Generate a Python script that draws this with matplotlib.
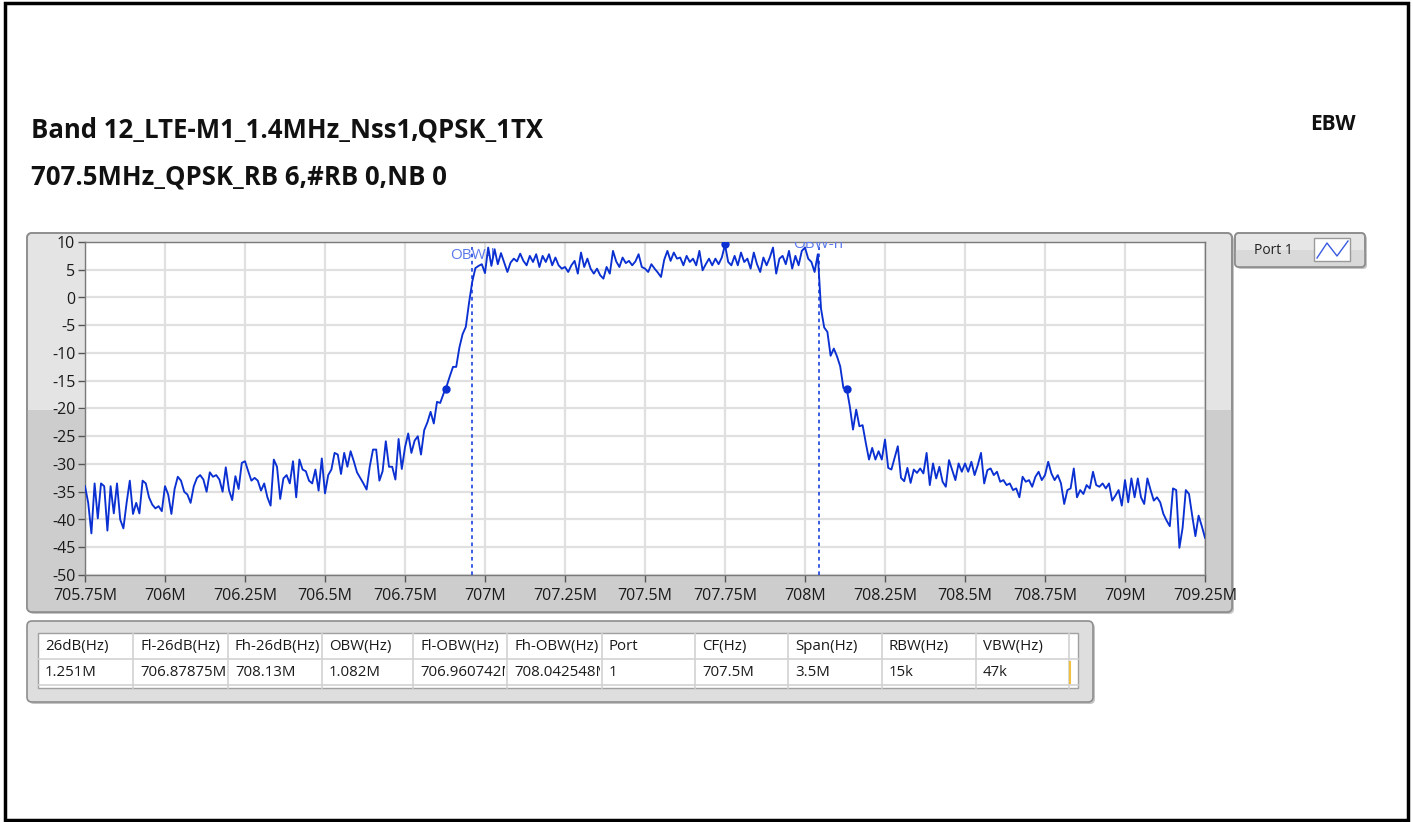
import numpy as np
import matplotlib.pyplot as plt
from matplotlib.patches import FancyBboxPatch, Rectangle
from matplotlib.ticker import MultipleLocator, FuncFormatter

plt.rcParams['font.family'] = ['Open Sans', 'DejaVu Sans']

title_1 = "Band 12_LTE-M1_1.4MHz_Nss1,QPSK_1TX"
title_2 = "707.5MHz_QPSK_RB 6,#RB 0,NB 0"
panel_name = "EBW"
legend_name = "Port 1"

# sweep 705.75 - 709.25 MHz, level in dBm
f_start, f_stop = 705.75, 709.25
level_db = [
    -34, -37, -42.5, -33.5, -39.8, -33.5, -34, -42, -34, -38.9,
    -33.5, -40, -41.6, -37, -33, -39, -37, -38.9, -33, -33.5,
    -36, -37.3, -38, -37.6, -38.5, -34, -35.5, -39, -34.5, -32.3,
    -33, -35, -35.5, -37, -34, -32.5, -32, -32.8, -35, -31.5,
    -32.3, -32, -32.8, -35, -30.6, -34.7, -36.5, -32.2, -34.5, -29.8,
    -29.5, -31.3, -33, -32.5, -33, -34.8, -33.5, -36, -37.5, -29.2,
    -30.5, -36.3, -32.6, -32, -33.5, -29.5, -36, -29.2, -31, -31.3,
    -33, -33.5, -31, -34.8, -29, -35.3, -32, -31, -28, -28.3,
    -31.8, -28, -30.5, -27.7, -29.5, -31.5, -32.5, -33.5, -34.6, -30.4,
    -27.4, -27.4, -33, -31.3, -25.9, -30.5, -30.5, -32.8, -25.5, -30.9,
    -27, -24.5, -28, -25.8, -25, -28.3, -23.9, -22.5, -20.6, -22.7,
    -18.8, -19, -17.4, -16, -14.2, -12.5, -12.5, -9, -6.6, -5.3,
    -1, 2.8, 5.3, 5.7, 6, 4.4, 9, 5.7, 8.7, 6,
    8, 6.3, 4.6, 6.3, 7, 6.5, 7.9, 6.6, 5.8, 7.5,
    6.4, 7.8, 5.5, 7.5, 6.4, 7.8, 5.8, 7.2, 5.8, 5.2,
    5.5, 4.6, 5.8, 6.6, 4.3, 8.1, 5.5, 7, 5.2, 4.3,
    5.2, 4, 3.4, 5.5, 4.3, 8.4, 6.5, 5.5, 7.2, 6.2,
    6.6, 5.8, 6.5, 7.8, 5.5, 5.2, 4.6, 6, 5.2, 4.5,
    3.7, 6.8, 8.4, 6.6, 8.1, 7, 7.2, 5.8, 7.5, 6.4,
    7, 5.8, 8.4, 4.9, 6, 7, 5.8, 7, 6, 7.2,
    9.5, 6.4, 5.8, 7.5, 5.8, 8.1, 6.4, 7, 5.2, 8.1,
    6, 4.6, 7.2, 5.8, 7.2, 9, 4.3, 7, 7.5, 6,
    8.4, 5.2, 7.5, 5.8, 8.4, 9, 7, 6.4, 4.6, 7.8,
    -2, -5.4, -6.2, -10.5, -9.2, -10.6, -12.4, -16.3, -16.3, -19.6,
    -23.8, -20.2, -23.2, -23, -26.2, -29.2, -27.1, -29.2, -27.7, -29.2,
    -25.6, -30.7, -31, -28.9, -26.8, -32.5, -33.1, -30.7, -33.4, -31,
    -31.6, -30.8, -31.7, -28, -33.8, -29.9, -32.6, -30.5, -33.2, -34.1,
    -29.3, -31.1, -32.9, -29.9, -31.4, -29.9, -31.4, -29.6, -32, -30.2,
    -28, -33.5, -31.1, -30.8, -32, -31.4, -33.2, -32.9, -33.8, -33.5,
    -34.7, -34.4, -36, -32.3, -33.2, -32.9, -34.1, -32.3, -31.4, -32.9,
    -32, -29.6, -31.7, -32.9, -32, -33.5, -37.2, -34.7, -34.4, -30.8,
    -36, -34.7, -35.4, -33.8, -34.4, -31.4, -33.8, -34.1, -33.5, -34.4,
    -33.5, -36.6, -35.7, -34.7, -37.5, -32.9, -36.9, -32.6, -36, -32.6,
    -36, -37.2, -32.6, -34.7, -36.6, -36, -36.9, -39, -40.2, -41.2,
    -34.4, -34.7, -45.1, -41.5, -34.7, -35.4, -39.3, -43, -39.3, -41.2,
    -43.3,
]
freq_mhz = np.linspace(f_start, f_stop, len(level_db))

# markers: -26dB points and peak
marker_freq = [706.87875, 707.75, 708.13]
marker_level = [-16.4, 9.6, -16.4]
obw_lo, obw_hi = 706.960742, 708.042548

table_headers = ["26dB(Hz)", "Fl-26dB(Hz)", "Fh-26dB(Hz)", "OBW(Hz)", "Fl-OBW(Hz)",
                 "Fh-OBW(Hz)", "Port", "CF(Hz)", "Span(Hz)", "RBW(Hz)", "VBW(Hz)", ""]
table_values = ["1.251M", "706.87875M", "708.13M", "1.082M", "706.960742M",
                "708.042548M", "1", "707.5M", "3.5M", "15k", "47k", "1"]
col_widths = [95, 95, 94, 91, 94, 95, 93, 93, 94, 94, 93, 9]

trace_color = '#0a30d2'
W, H = 1413, 822

fig = plt.figure(figsize=(W / 100, H / 100), dpi=100)
fig.patch.set_facecolor('white')

# background axes in pixel units, y going down
bg = fig.add_axes([0, 0, 1, 1])
bg.set_xlim(0, W)
bg.set_ylim(H, 0)
bg.axis('off')
bg.set_zorder(0)

bg.add_patch(Rectangle((5, 3), W - 10, H - 5, fc='none', ec='black', lw=2.5))

bg.text(31, 130, title_1, fontsize=18.5, fontweight='bold', va='center', color='#111111')
bg.text(31, 177, title_2, fontsize=18.5, fontweight='bold', va='center', color='#111111')
bg.text(1310, 124, panel_name, fontsize=15, fontweight='bold', va='center', color='#111111')

# graph panel
bg.add_patch(FancyBboxPatch((29, 235), 1205, 379, boxstyle="round,pad=0,rounding_size=5",
                            fc='#c4c4c4', ec='none'))
panel = FancyBboxPatch((27, 233), 1205, 379, boxstyle="round,pad=0,rounding_size=5",
                       fc='#e4e4e4', ec='#8e8e8e', lw=1.2)
bg.add_patch(panel)
lower = Rectangle((27, 410), 1205, 202, fc='#cdcdcd', ec='none')
bg.add_patch(lower)
lower.set_clip_path(panel)
bg.add_patch(FancyBboxPatch((27, 233), 1205, 379, boxstyle="round,pad=0,rounding_size=5",
                            fc='none', ec='#8e8e8e', lw=1.2))

# legend box
bg.add_patch(FancyBboxPatch((1237, 235), 130, 34, boxstyle="round,pad=0,rounding_size=4",
                            fc='#c4c4c4', ec='none'))
leg = FancyBboxPatch((1235, 233), 130, 34, boxstyle="round,pad=0,rounding_size=4",
                     fc='#e6e6e6', ec='#8e8e8e', lw=1.2)
bg.add_patch(leg)
leg_low = Rectangle((1235, 250), 130, 17, fc='#d9d9d9', ec='none')
bg.add_patch(leg_low)
leg_low.set_clip_path(leg)
bg.add_patch(FancyBboxPatch((1235, 233), 130, 34, boxstyle="round,pad=0,rounding_size=4",
                            fc='none', ec='#8e8e8e', lw=1.2))
bg.text(1254, 250, legend_name, fontsize=10, va='center', color='#222222')
bg.add_patch(Rectangle((1314, 238), 36, 23, fc='white', ec='#9a9a9a', lw=1))
bg.plot([1317, 1327, 1337, 1348], [258, 243, 256, 241], color='#3a5be0', lw=1)

# table panel
bg.add_patch(FancyBboxPatch((29, 623), 1066, 81, boxstyle="round,pad=0,rounding_size=5",
                            fc='#c4c4c4', ec='none'))
bg.add_patch(FancyBboxPatch((27, 621), 1066, 81, boxstyle="round,pad=0,rounding_size=5",
                            fc='#dedede', ec='#8e8e8e', lw=1.2))
tx0, ty0 = 38, 633
row_h = 26
bg.add_patch(Rectangle((tx0, ty0), sum(col_widths), 55, fc='white', ec='#a0a0a0', lw=1))
edges = np.concatenate([[0], np.cumsum(col_widths)]) + tx0
for xe in edges[1:-1]:
    bg.plot([xe, xe], [ty0, ty0 + 55], color='#d2d2d2', lw=1.2)
for yl in [ty0 + row_h, ty0 + 2 * row_h]:
    bg.plot([tx0, edges[-1]], [yl, yl], color='#d2d2d2', lw=1.2)
bg.plot([edges[-2] + 1, edges[-2] + 1], [ty0 + row_h + 3, ty0 + 2 * row_h - 2], color='#f0c040', lw=1.5)
for j in range(len(col_widths) - 1):
    for r, txt in enumerate([table_headers[j], table_values[j]]):
        cell = Rectangle((edges[j], ty0 + r * row_h), col_widths[j] - 2, row_h,
                         transform=bg.transData)
        t = bg.text(edges[j] + 7, ty0 + r * row_h + row_h / 2, txt, fontsize=10.8,
                    va='center', color='#1a1a1a', clip_on=True)
        t.set_clip_path(cell)

# spectrum plot
ax = fig.add_axes([85 / W, 1 - 575 / H, 1120 / W, 333 / H])
ax.set_zorder(2)
ax.set_facecolor('white')
ax.plot(freq_mhz, level_db, color=trace_color, lw=1.35, zorder=4)
ax.plot(marker_freq, marker_level, 'o', ms=5, color=trace_color, zorder=5)
for fo in [obw_lo, obw_hi]:
    ax.axvline(fo, ymin=0, ymax=0.985, color='#2a4fe0', lw=1.3, ls=(0, (2, 2)), zorder=3)
ax.text(obw_lo, 7.6, "OBW-l", ha='center', va='center', fontsize=11, color='#5a78ec',
        zorder=3, clip_on=True)
ax.text(obw_hi, 9.6, "OBW-h", ha='center', va='center', fontsize=11, color='#5a78ec',
        zorder=3, clip_on=True)

ax.set_xlim(f_start, f_stop)
ax.set_ylim(-50, 10)
ax.xaxis.set_major_locator(MultipleLocator(0.25))
ax.yaxis.set_major_locator(MultipleLocator(5))
ax.xaxis.set_major_formatter(FuncFormatter(lambda v, p: f"{v:g}M"))
ax.yaxis.set_major_formatter(FuncFormatter(lambda v, p: f"{v:g}"))
ax.grid(color='#e0e0e0', lw=1.6)
ax.set_axisbelow(True)
ax.tick_params(direction='out', length=5, width=1, color='#555555', labelsize=11.5,
               labelcolor='#1a1a1a')
ax.tick_params(axis='x', pad=4)
ax.tick_params(axis='y', pad=2)
for s in ax.spines.values():
    s.set_color('#7a7a7a')
    s.set_linewidth(1)

fig.savefig('out.png', dpi=100)
